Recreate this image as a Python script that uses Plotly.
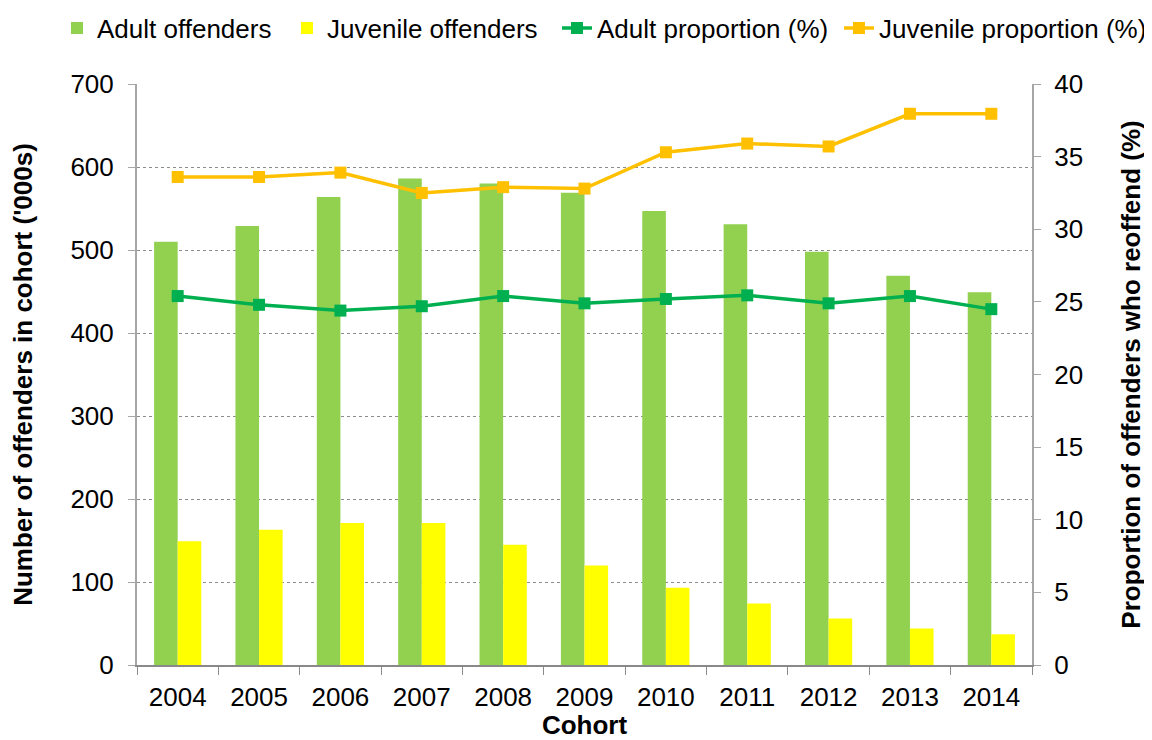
import plotly.graph_objects as go

years = ["2004", "2005", "2006", "2007", "2008", "2009", "2010", "2011", "2012", "2013", "2014"]
adult_offenders = [510, 529, 564, 586, 580, 569, 547, 531, 498, 469, 449]
juvenile_offenders = [149, 163, 171, 171, 145, 120, 93, 74, 56, 44, 37]
adult_prop = [25.4, 24.8, 24.4, 24.7, 25.4, 24.9, 25.2, 25.45, 24.9, 25.4, 24.5]
juvenile_prop = [33.6, 33.6, 33.9, 32.5, 32.9, 32.8, 35.3, 35.9, 35.7, 37.95, 37.95]

FONT = "Liberation Sans, Arial, sans-serif"
FS = 26
W, H = 1144, 732  # page body adds an 8px offset

fig = go.Figure()
fig.add_trace(go.Bar(x=years, y=adult_offenders, name="Adult offenders", legend="legend",
                     marker=dict(color="#92D050", line=dict(width=0))))
fig.add_trace(go.Bar(x=years, y=juvenile_offenders, name="Juvenile offenders", legend="legend2",
                     marker=dict(color="#FFFF00", line=dict(width=0))))
fig.add_trace(go.Scatter(x=years, y=adult_prop, name="Adult proportion (%)", yaxis="y2", legend="legend3",
                         mode="lines+markers", line=dict(color="#00B050", width=3.5),
                         marker=dict(symbol="square", size=12, color="#00B050")))
fig.add_trace(go.Scatter(x=years, y=juvenile_prop, name="Juvenile proportion (%)", yaxis="y2", legend="legend4",
                         mode="lines+markers", line=dict(color="#FFC000", width=3.5),
                         marker=dict(symbol="square", size=12, color="#FFC000")))


def leg(xfrac, anchor="left"):
    return dict(orientation="h", xref="container", yref="container",
                x=xfrac, xanchor=anchor, y=1 - 20 / H, yanchor="middle",
                font=dict(size=FS), itemwidth=30, bgcolor="rgba(0,0,0,0)",
                borderwidth=0)


fig.update_layout(
    width=W, height=H,
    margin=dict(l=129, r=120, t=76, b=75, autoexpand=False),
    paper_bgcolor="white", plot_bgcolor="white",
    font=dict(family=FONT, size=FS, color="black"),
    barmode="group", bargap=0.42, bargroupgap=0,
    showlegend=True,
    legend=leg(49 / W), legend2=leg(279 / W), legend3=leg(549 / W), legend4=leg(1.0, "right"),
    xaxis=dict(
        type="category", automargin=False, range=[-0.5, len(years) - 0.5],
        title=dict(text="<b>Cohort</b>", font=dict(size=FS), standoff=14),
        showline=True, linecolor="#898989", linewidth=2,
        ticks="outside", tickson="boundaries", ticklen=8, tickcolor="#898989",
        ticklabelstandoff=8,
        showgrid=False, tickfont=dict(size=FS),
    ),
    yaxis=dict(
        range=[0, 700], dtick=100, automargin=False,
        title=dict(text="<b>Number of offenders in cohort ('000s)</b>", font=dict(size=FS), standoff=30),
        showline=True, linecolor="#A6A6A6", linewidth=2,
        ticks="outside", ticklen=7, tickcolor="#A6A6A6", ticklabelstandoff=9,
        showgrid=True, gridcolor="#8C8C8C", griddash="dot", gridwidth=1,
        zeroline=False, tickfont=dict(size=FS),
    ),
    yaxis2=dict(
        range=[0, 40], dtick=5, overlaying="y", side="right", automargin=False,
        title=dict(text="<b>Proportion of offenders who reoffend (%)</b>", font=dict(size=FS), standoff=40),
        showline=True, linecolor="#A6A6A6", linewidth=2,
        ticks="outside", ticklen=7, tickcolor="#A6A6A6", ticklabelstandoff=8,
        showgrid=False, zeroline=False, tickfont=dict(size=FS),
    ),
)

fig.write_html("out.html")
